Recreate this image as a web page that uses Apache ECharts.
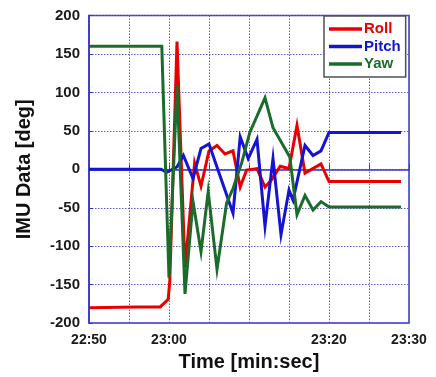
<!DOCTYPE html>
<html>
<head>
<meta charset="utf-8">
<script src="https://cdn.jsdelivr.net/npm/echarts@6/dist/echarts.min.js"></script>
<style>
html,body{margin:0;padding:0;background:#fff;}
#c{width:436px;height:377px;}
</style>
</head>
<body>
<div id="c"></div>
<script>
// Time in seconds after 22:50
const tickSeconds = [0, 10, 30, 40];
const tickLabels = ['22:50', '23:00', '23:20', '23:30'];
const seriesNames = ['Roll', 'Pitch', 'Yaw'];

const rollT = [0, 6, 8.9, 9.9, 10.1, 11, 12, 13.2, 14, 15, 16, 17, 18, 18.9, 19.7, 21, 22, 22.8, 23.9, 25, 26, 27, 29, 30, 39];
const rollV = [-180, -179, -179, -169, -145, 166, -128, 8, -22, 24, 31, 20, 24, -23, -1, 1, -23, -14, 4, 1, 57, -5, 7, -16, -16];

const pitchT = [0, 9, 9.7, 11, 11.8, 13, 14, 15, 18, 18.9, 19.9, 21, 22, 23, 24, 25, 25.5, 27, 28, 29, 30, 39];
const pitchV = [0, 0, -4, 3, 18, -12, 27, 33, -57, 42, 14, 39, -74, 14, -85, -27, -40, 31, 18, 24, 48, 48];

const yawT = [0, 9.1, 9.3, 10, 11, 12, 13, 14, 14.9, 16, 17.2, 18, 19.1, 20.1, 22, 23, 25.1, 26, 27, 28, 29, 30, 39];
const yawV = [160, 160, 91, -141, 110, -162, -42, -107, -29, -130, -44, -25, 9, 48, 93, 54, 16, -59, -34, -53, -42, -49, -49];

const colors = ['#e80000', '#1414d2', '#1b6b2b'];
const pair = (t, v) => t.map((x, i) => [x, v[i]]);
const dataSets = [pair(rollT, rollV), pair(pitchT, pitchV), pair(yawT, yawV)];

const chart = echarts.init(document.getElementById('c'), null, {renderer: 'canvas'});
const axisBlue = '#3434c8';
chart.setOption({
  animation: false,
  backgroundColor: '#fff',
  grid: {left: 89, right: 27, top: 15.5, bottom: 51.3, show: true, borderColor: axisBlue, borderWidth: 1.5, backgroundColor: 'transparent'},
  legend: {
    orient: 'vertical', left: 324, top: 16,
    padding: [5, 5, 5, 5], itemGap: 1.5,
    icon: 'rect', itemWidth: 33, itemHeight: 3.5,
    backgroundColor: '#fff', borderColor: '#505050', borderWidth: 1.5,
    textStyle: {fontFamily: 'Liberation Sans, Arial, sans-serif', fontWeight: 'bold', fontSize: 15, lineHeight: 16, padding: [0,0,0,-3]},
    data: seriesNames.map((n, i) => ({name: n, textStyle: {color: colors[i]}}))
  },
  xAxis: {
    type: 'value', min: 0, max: 40, interval: 5,
    name: 'Time [min:sec]', nameLocation: 'middle', nameGap: 19,
    nameTextStyle: {fontFamily: 'Liberation Sans, Arial, sans-serif', fontWeight: 'bold', fontSize: 20, color: '#111'},
    axisLine: {show: true, lineStyle: {color: axisBlue, width: 1.5}},
    axisTick: {show: true, inside: true, length: 5, lineStyle: {color: axisBlue}},
    axisLabel: {
      margin: 10, fontFamily: 'Liberation Sans, Arial, sans-serif', fontWeight: 'bold', fontSize: 14, color: '#1a1a1a',
      formatter: v => { const k = tickSeconds.indexOf(v); return k >= 0 ? tickLabels[k] : ''; }
    },
    splitLine: {show: true, lineStyle: {color: '#5a5ae0', type: [1.5, 1.5], width: 1}}
  },
  yAxis: {
    type: 'value', min: -200, max: 200, interval: 50,
    name: 'IMU Data [deg]', nameLocation: 'middle', nameGap: 55,
    nameTextStyle: {fontFamily: 'Liberation Sans, Arial, sans-serif', fontWeight: 'bold', fontSize: 20, color: '#111'},
    axisLine: {show: true, lineStyle: {color: axisBlue, width: 1.5}},
    axisTick: {show: true, inside: true, length: 4, lineStyle: {color: axisBlue}},
    axisLabel: {margin: 9, fontFamily: 'Liberation Sans, Arial, sans-serif', fontWeight: 'bold', fontSize: 15, color: '#1a1a1a'},
    splitLine: {show: true, lineStyle: {color: '#5a5ae0', type: [1.5, 1.5], width: 1}}
  },
  series: seriesNames.map((n, i) => ({
    name: n, type: 'line', data: dataSets[i], symbol: 'none', showSymbol: false,
    lineStyle: {color: colors[i], width: 3, join: 'miter'}, itemStyle: {color: colors[i]},
    z: 2 + i
  }))
});
</script>
</body>
</html>
